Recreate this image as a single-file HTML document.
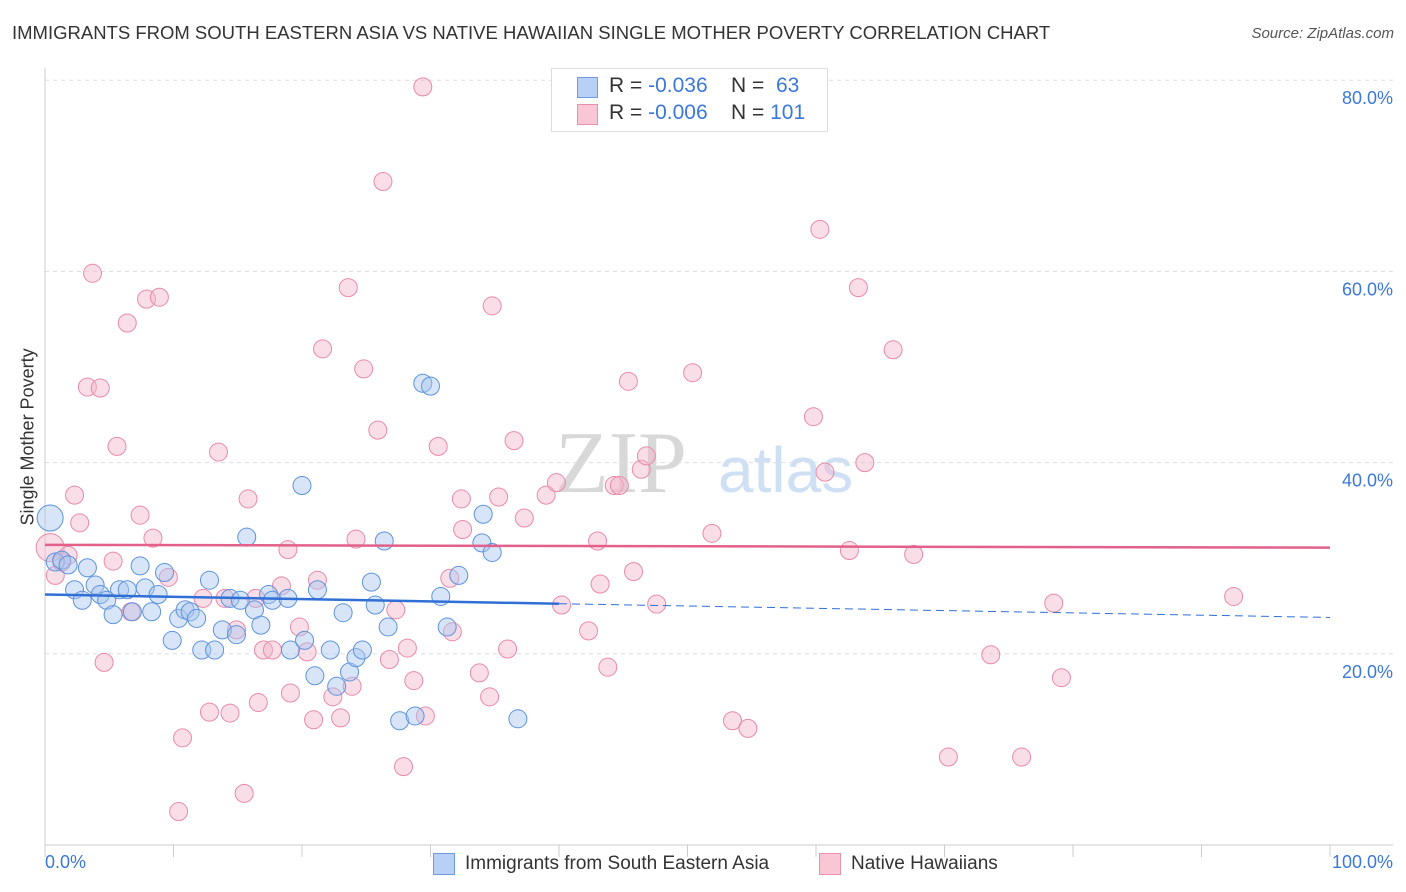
<!DOCTYPE html>
<html><head><meta charset="utf-8">
<style>
body{margin:0;background:#fff;font-family:"Liberation Sans",sans-serif;}
#wrap{position:relative;width:1406px;height:892px;overflow:hidden;}
.t{position:absolute;white-space:nowrap;}
</style></head>
<body>
<div id="wrap">
<div class="t" style="left:12px;top:22px;font-size:18.5px;color:#333;">IMMIGRANTS FROM SOUTH EASTERN ASIA VS NATIVE HAWAIIAN SINGLE MOTHER POVERTY CORRELATION CHART</div>
<div class="t" style="right:12px;top:25px;font-size:15px;color:#555;font-style:italic;">Source: ZipAtlas.com</div>
<svg id="plot" width="1406" height="892" style="position:absolute;left:0;top:0"></svg>
</div>
<script>
const blueX=[0.4,0.8,1.3,1.8,2.3,2.9,3.3,3.9,4.3,4.8,5.3,5.8,6.4,6.8,7.4,7.8,8.3,8.8,9.3,9.9,10.4,10.9,11.3,11.8,12.2,12.8,13.2,13.8,14.4,14.9,15.2,15.7,16.3,16.8,17.4,17.7,18.9,19.1,20.0,20.2,21.0,21.2,22.2,22.7,23.2,23.7,24.2,24.7,25.4,25.7,26.4,26.7,27.6,28.8,29.4,30.0,30.8,31.3,32.2,34.1,34.0,34.8,36.8];
const blueY=[34.2,29.6,29.8,29.3,26.7,25.6,29.0,27.2,26.2,25.6,24.1,26.7,26.7,24.4,29.2,26.9,24.4,26.2,28.5,21.4,23.7,24.6,24.4,23.7,20.4,27.7,20.4,22.5,25.8,22.0,25.6,32.2,24.6,23.0,26.2,25.6,25.8,20.4,37.6,21.4,17.7,26.7,20.4,16.6,24.3,18.1,19.6,20.4,27.5,25.1,31.8,22.8,13.0,13.5,48.3,48.0,26.0,22.8,28.2,34.6,31.6,30.6,13.2];
const pinkX=[0.4,0.8,1.3,1.8,2.3,2.7,3.3,3.7,4.3,4.6,5.3,5.6,6.4,6.7,7.4,7.9,8.4,8.9,9.6,10.7,10.4,12.3,12.8,13.5,14.0,14.4,14.9,15.5,15.8,16.4,16.6,17.0,17.7,18.4,18.9,19.1,19.8,20.4,20.9,21.2,21.6,22.4,23.0,23.6,23.9,24.2,24.8,25.9,26.3,26.8,27.3,27.9,28.2,28.7,29.6,29.4,30.6,31.5,31.7,32.4,32.5,33.8,34.6,34.8,35.3,36.0,36.5,37.3,39.0,39.8,40.2,42.3,43.0,43.2,43.8,44.3,44.7,45.4,45.8,46.4,46.8,47.6,50.4,51.9,53.5,54.7,59.8,60.3,60.7,62.6,63.3,63.8,66.0,67.6,70.3,73.6,76.0,78.5,79.1,92.5];
const pinkY=[31.1,28.2,29.6,30.3,36.6,33.7,47.9,59.8,47.8,19.1,29.7,41.7,54.6,24.4,34.5,57.1,32.1,57.3,28.0,11.2,3.5,25.8,13.9,41.1,25.8,13.8,22.5,5.4,36.2,25.8,14.9,20.4,20.4,27.1,30.9,15.9,22.8,20.2,13.1,27.7,51.9,15.5,13.3,58.3,16.6,32.0,49.8,43.4,69.4,19.4,24.6,8.2,20.6,17.2,13.5,79.3,41.7,27.9,22.3,36.2,33.0,18.0,15.5,56.4,36.4,20.5,42.3,34.2,36.6,37.9,25.1,22.4,31.8,27.3,18.6,37.6,37.6,48.5,28.6,39.3,40.7,25.2,49.4,32.6,13.0,12.2,44.8,64.4,39.0,30.8,58.3,40.0,51.8,30.4,9.2,19.9,9.2,25.3,17.5,26.0];
const yTicks=[20,40,60,80];
const yTickLabels=["20.0%","40.0%","60.0%","80.0%"];
const blueTrend=[26.2,23.8];
const pinkTrend=[31.4,31.1];
const X0=45,X1=1330,Y0=845,PX=9.56;
const sx=v=>X0+(X1-X0)*v/100, sy=v=>Y0-v*PX;
const svg=document.getElementById('plot');
const NS='http://www.w3.org/2000/svg';
function mk(t,a){const e=document.createElementNS(NS,t);for(const k in a)e.setAttribute(k,a[k]);svg.appendChild(e);return e;}
let w=mk('text',{x:555,y:492,'font-size':88,'font-family':'Liberation Serif,serif',fill:'#d8d8d8'});w.textContent='ZIP';


w=mk('text',{x:718,y:492,'font-size':64,'font-family':'Liberation Sans,sans-serif',fill:'#cfe0f4'});w.textContent='atlas';


yTicks.forEach((v,i)=>{
 const g=mk('line',{x1:X0,x2:1393,y1:sy(v),y2:sy(v),stroke:'#ddd','stroke-dasharray':'4,4'});
 
 
 const t=mk('text',{x:1393,y:sy(v)+24,'text-anchor':'end','font-size':18,fill:'#3b78d8','font-family':'Liberation Sans,sans-serif'});
 t.textContent=yTickLabels[i];
 
 
});
let a=mk('line',{x1:X0,x2:X0,y1:68,y2:Y0,stroke:'#ccc'});


a=mk('line',{x1:X0,x2:1393,y1:Y0,y2:Y0,stroke:'#ccc'});


for(let i=0;i<=10;i++){const tk=mk('line',{x1:sx(i*10),x2:sx(i*10),y1:Y0,y2:857,stroke:'#ccc'});
 
 }
function dot(x,y,r,fill,stroke,name){const c=mk('circle',{cx:sx(x),cy:sy(y),r:r,fill:fill,'fill-opacity':0.45,stroke:stroke,'stroke-width':1});
 
 }
pinkX.forEach((x,i)=>dot(x,pinkY[i],i==0?14:9,'#f5b5ca','#e88aaa','point-native-hawaiian'));
blueX.forEach((x,i)=>dot(x,blueY[i],i==0?13:9,'#a8c6f0','#5d93dc','point-se-asia'));
const bm=blueTrend[0]+(blueTrend[1]-blueTrend[0])*0.4;
let l=mk('line',{x1:sx(0),y1:sy(blueTrend[0]),x2:sx(40),y2:sy(bm),stroke:'#2f6fd6','stroke-width':2.5});


l=mk('line',{x1:sx(40),y1:sy(bm),x2:sx(100),y2:sy(blueTrend[1]),stroke:'#2f6fd6','stroke-width':1,'stroke-dasharray':'8,5'});


l=mk('line',{x1:sx(0),y1:sy(pinkTrend[0]),x2:sx(100),y2:sy(pinkTrend[1]),stroke:'#e2608a','stroke-width':2.5});


</script>
<div class="t" style="left:-42px;top:445px;font-size:18px;color:#333;transform:rotate(-90deg);width:140px;text-align:center;">Single Mother Poverty</div>
<div class="t" style="left:45px;top:852px;font-size:18px;color:#3b78d8;">0.0%</div>
<div class="t" style="right:13px;top:852px;font-size:18px;color:#3b78d8;">100.0%</div>
<div style="position:absolute;left:551px;top:68px;width:275px;height:62px;border:1px solid #ddd;background:#fff;font-size:21px;">
 <div style="position:absolute;left:25px;top:8px;width:19px;height:19px;background:#b8d0f3;border:1px solid #6d9de0;"></div>
 <div class="t" style="left:57px;top:5px;color:#333;">R = <span style="color:#3b78d8">-0.036</span>&nbsp;&nbsp;&nbsp; N = &nbsp;<span style="color:#3b78d8">63</span></div>
 <div style="position:absolute;left:25px;top:35px;width:19px;height:19px;background:#f9c6d6;border:1px solid #e890ac;"></div>
 <div class="t" style="left:57px;top:32px;color:#333;">R = <span style="color:#3b78d8">-0.006</span>&nbsp;&nbsp;&nbsp; N = <span style="color:#3b78d8">101</span></div>
</div>
<div style="position:absolute;left:433px;top:853px;width:20px;height:20px;background:#b8d0f3;border:1px solid #6d9de0;"></div>
<div class="t" style="left:465px;top:853px;font-size:19px;color:#333;">Immigrants from South Eastern Asia</div>
<div style="position:absolute;left:819px;top:853px;width:20px;height:20px;background:#f9c6d6;border:1px solid #e890ac;"></div>
<div class="t" style="left:851px;top:853px;font-size:19px;color:#333;">Native Hawaiians</div>
</body></html>
